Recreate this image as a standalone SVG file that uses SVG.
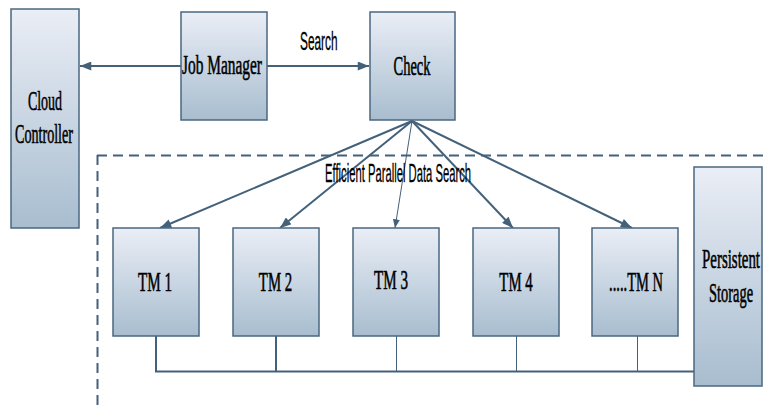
<svg xmlns="http://www.w3.org/2000/svg" width="766" height="407" viewBox="0 0 766 407">
<defs>
<linearGradient id="g" x1="0" y1="0" x2="0" y2="1">
<stop offset="0" stop-color="#eaeef6"/>
<stop offset="1" stop-color="#a8bdcf"/>
</linearGradient>
<marker id="ah" viewBox="0 0 10 8" refX="10" refY="4" markerWidth="12" markerHeight="9" markerUnits="userSpaceOnUse" orient="auto">
<path d="M0,0 L10,4 L0,8 Z" fill="#44617a"/>
</marker>
<marker id="ahs" viewBox="0 0 10 8" refX="10" refY="4" markerWidth="9" markerHeight="7" markerUnits="userSpaceOnUse" orient="auto">
<path d="M0,0 L10,4 L0,8 Z" fill="#44617a"/>
</marker>
</defs>
<style>
.box{fill:url(#g);stroke:#4a6780;stroke-width:1.5}
.lbl{font-family:"Liberation Serif","Times New Roman",serif;font-size:28px;fill:#000;stroke:#000;stroke-width:0.6;text-anchor:middle}
.sans{font-family:"Liberation Sans",Arial,sans-serif;font-size:25px;fill:#000;stroke:#000;stroke-width:0.3;text-anchor:start}
.ln{stroke:#44617a;stroke-width:2;fill:none}
.thin{stroke:#44617a;stroke-width:1;fill:none}
</style>
<rect width="766" height="407" fill="#fff"/>
<g id="connectors">
<line class="ln" x1="181" y1="66" x2="80" y2="66" marker-end="url(#ah)"/>
<line class="ln" x1="267" y1="66" x2="369" y2="66" marker-end="url(#ah)"/>
<line class="ln" x1="412" y1="121" x2="160" y2="228" marker-end="url(#ah)"/>
<line class="ln" x1="412" y1="121" x2="280" y2="228" marker-end="url(#ah)"/>
<line class="thin" x1="412" y1="121" x2="395" y2="228" marker-end="url(#ahs)"/>
<line class="ln" x1="412" y1="121" x2="513" y2="228" marker-end="url(#ah)"/>
<line class="ln" x1="412" y1="121" x2="632" y2="228" marker-end="url(#ah)"/>
<line class="ln" x1="156" y1="336" x2="156" y2="372"/>
<line class="ln" x1="276" y1="336" x2="276" y2="372"/>
<line class="thin" x1="396.5" y1="336" x2="396.5" y2="372"/>
<line class="thin" x1="516.5" y1="336" x2="516.5" y2="372"/>
<line class="thin" x1="637.5" y1="336" x2="637.5" y2="372"/>
<line class="ln" x1="155" y1="371.5" x2="694" y2="371.5"/>
<text class="sans" transform="translate(300,50) scale(0.474,1)" font-size="24">Search</text>
</g>
<g id="region">
<path d="M97,155.5 H766 M97.5,155 V407" stroke="#44617a" stroke-width="2" stroke-dasharray="10,6" fill="none"/>
<text class="sans" transform="translate(325,181.5) scale(0.45,1)">Efficient Parallel Data Search</text>
</g>
<g id="cloud-controller">
<rect class="box" x="11" y="9" width="68" height="219"/>
<text class="lbl" transform="translate(45,110) scale(0.5,1)">Cloud</text>
<text class="lbl" transform="translate(44,143) scale(0.504,1)">Controller</text>
</g>
<g id="job-manager">
<rect class="box" x="181" y="12" width="86" height="108"/>
<text class="lbl" transform="translate(222,74) scale(0.55,1)">Job Manager</text>
</g>
<g id="check">
<rect class="box" x="370" y="12" width="85" height="108"/>
<text class="lbl" transform="translate(412,75) scale(0.517,1)">Check</text>
</g>
<g id="tm1">
<rect class="box" x="113" y="228" width="86" height="108"/>
<text class="lbl" transform="translate(155,291) scale(0.54,1)">TM 1</text>
</g>
<g id="tm2">
<rect class="box" x="233" y="228" width="86" height="108"/>
<text class="lbl" transform="translate(275.5,291) scale(0.53,1)">TM 2</text>
</g>
<g id="tm3">
<rect class="box" x="353" y="228" width="86" height="108"/>
<text class="lbl" transform="translate(391,289) scale(0.54,1)">TM 3</text>
</g>
<g id="tm4">
<rect class="box" x="473" y="228" width="86" height="108"/>
<text class="lbl" transform="translate(516,291) scale(0.53,1)">TM 4</text>
</g>
<g id="tmn">
<rect class="box" x="592" y="228" width="86" height="108"/>
<text class="lbl" transform="translate(636,291) scale(0.518,1)">.....TM N</text>
</g>
<g id="persistent-storage">
<rect class="box" x="694" y="167" width="68" height="219"/>
<text class="lbl" transform="translate(731,268) scale(0.533,1)">Persistent</text>
<text class="lbl" transform="translate(731,302) scale(0.515,1)">Storage</text>
</g>
</svg>
